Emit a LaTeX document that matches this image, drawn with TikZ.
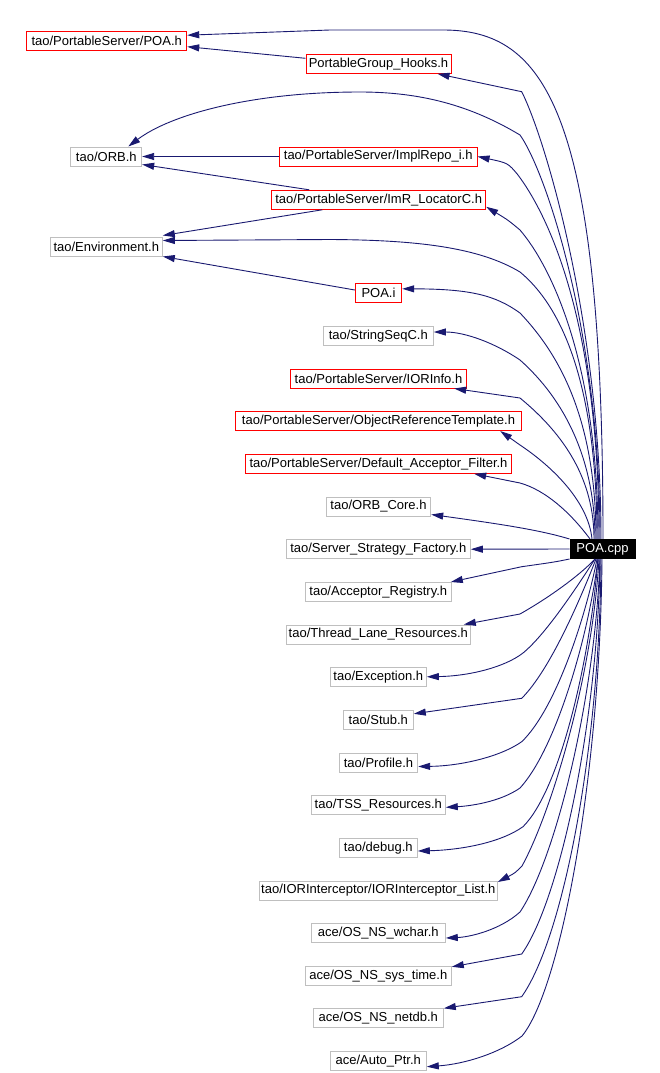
\documentclass[tikz,border=0pt]{standalone}
\usepackage{fontspec}
\setmainfont{Liberation Sans}
\usetikzlibrary{arrows.meta}
\definecolor{edgecol}{RGB}{25,25,112}
\definecolor{graybox}{RGB}{191,191,191}
\begin{document}
\begin{tikzpicture}[x=1pt,y=-1pt,
  box/.style={draw=graybox, line width=1pt, inner sep=0pt, minimum height=19pt, font=\fontsize{13}{15}\selectfont, anchor=center},
  redbox/.style={box, draw=red},
  cppbox/.style={box, draw=black, fill=black, text=white},
  edge/.style={draw=edgecol, line width=0.9pt, -{Triangle[length=12pt,width=7pt]}}]
\useasboundingbox (0,0) rectangle (660,1073);
% nodes
\node[redbox, minimum width=160pt] (poah) at (106.7,41.2) {tao/PortableServer/POA.h};
\node[redbox, minimum width=145pt] (pgh) at (378.5,63.8) {PortableGroup\_Hooks.h};
\node[box, minimum width=70.7pt] (orbh) at (106.3,156.5) {tao/ORB.h};
\node[redbox, minimum width=197.7pt] (implrepo) at (378.2,156.5) {tao/PortableServer/ImplRepo\_i.h};
\node[redbox, minimum width=214pt] (imr) at (378.7,199.8) {tao/PortableServer/ImR\_LocatorC.h};
\node[box, minimum width=112pt] (env) at (106.3,246.5) {tao/Environment.h};
\node[redbox, minimum width=46.4pt] (poai) at (378.5,292.8) {POA.i};
\node[box, minimum width=110pt] (strseq) at (378.3,336) {tao/StringSeqC.h};
\node[redbox, minimum width=176.4pt] (iorinfo) at (378.5,378.5) {tao/PortableServer/IORInfo.h};
\node[redbox, minimum width=286.4pt] (ort) at (378.5,421) {tao/PortableServer/ObjectReferenceTemplate.h};
\node[redbox, minimum width=266.4pt] (daf) at (378.5,463.8) {tao/PortableServer/Default\_Acceptor\_Filter.h};
\node[box, minimum width=104.4pt] (orbcore) at (378.5,506.5) {tao/ORB\_Core.h};
\node[box, minimum width=184pt] (ssf) at (378.3,549.2) {tao/Server\_Strategy\_Factory.h};
\node[cppbox, minimum width=65pt] (cpp) at (602.5,549) {POA.cpp};
\node[box, minimum width=146pt] (accreg) at (378.3,592) {tao/Acceptor\_Registry.h};
\node[box, minimum width=184pt] (tlr) at (378.3,634.5) {tao/Thread\_Lane\_Resources.h};
\node[box, minimum width=96pt] (exc) at (378.3,676.8) {tao/Exception.h};
\node[box, minimum width=70pt] (stub) at (378.3,719.8) {tao/Stub.h};
\node[box, minimum width=78.4pt] (profile) at (378.5,762.5) {tao/Profile.h};
\node[box, minimum width=134pt] (tss) at (378.3,804.8) {tao/TSS\_Resources.h};
\node[box, minimum width=78pt] (debug) at (378.3,848) {tao/debug.h};
\node[box, minimum width=238pt] (iorint) at (378.3,890.5) {tao/IORInterceptor/IORInterceptor\_List.h};
\node[box, minimum width=134pt] (wchar) at (378.3,933) {ace/OS\_NS\_wchar.h};
\node[box, minimum width=146pt] (systime) at (378.3,975.8) {ace/OS\_NS\_sys\_time.h};
\node[box, minimum width=130pt] (netdb) at (378.3,1018.3) {ace/OS\_NS\_netdb.h};
\node[box, minimum width=96pt] (autoptr) at (378.3,1061.2) {ace/Auto\_Ptr.h};
% node-to-node edges
\draw[edge] ([yshift=5.5pt]pgh.west) -- ([yshift=-5.5pt]poah.east);
\draw[edge] (implrepo.west) -- (orbh.east);
\draw[edge] ([xshift=38pt]imr.north west) -- ([yshift=-8pt]orbh.east);
\draw[edge] ([xshift=51pt]imr.south west) -- ([yshift=1pt]env.north east);
\draw[edge] ([yshift=2.8pt]poai.west) -- (env.south east);
% edges from POA.cpp (upper)
\draw[edge] ([xshift=0.5pt]cpp.north) .. controls (603,110) and (545,30) .. (443,30) -- (330,30) -- ([yshift=6pt]poah.east);
\draw[edge] ([xshift=-1.5pt]cpp.north) .. controls (601,330) and (547,142) .. (521.7,91.7) -- ([xshift=-14pt]pgh.south east);
\draw[edge] ([xshift=-2.5pt]cpp.north) .. controls (600,330) and (545,170) .. (520,135) .. controls (470,105) and (420,92) .. (360,92) .. controls (250,92) and (170,115) .. ([xshift=22pt]orbh.north);
\draw[edge] ([xshift=-3.5pt]cpp.north) .. controls (599,320) and (548,215) .. (518,175) .. controls (508,163) .. (implrepo.east);
\draw[edge] ([xshift=-4.5pt]cpp.north) .. controls (598,360) and (550,265) .. (520,230) .. controls (508,220) .. ([yshift=-7pt]imr.east);
\draw[edge] ([xshift=-5.5pt]cpp.north) .. controls (597,380) and (560,305) .. (520,272) .. controls (480,248) and (420,240) .. (330,239.5) -- ([yshift=6pt]env.east);
\draw[edge] ([xshift=-6.5pt]cpp.north) .. controls (596,420) and (560,355) .. (520,313) .. controls (495,295) and (470,289) .. ([yshift=4pt]poai.east);
\draw[edge] ([xshift=-7.5pt]cpp.north) .. controls (595,460) and (565,400) .. (520,360) .. controls (495,343) and (465,332) .. ([yshift=4pt]strseq.east);
\draw[edge] ([xshift=-8.5pt]cpp.north) .. controls (594,480) and (565,435) .. (520,398) -- ([xshift=-13pt]iorinfo.south east);
\draw[edge] ([xshift=-10.5pt]cpp.north) .. controls (588,500) and (550,465) .. (520,445) -- ([xshift=-22pt]ort.south east);
\draw[edge] ([xshift=-12.5pt]cpp.north) .. controls (570,512) and (545,490) .. (520,483) -- ([xshift=-38pt]daf.south east);
\draw[edge] (cpp.north west) .. controls (540,530) and (500,524) .. ([yshift=-8pt]orbcore.east);
\draw[edge] (cpp.west) -- (ssf.east);
% edges from POA.cpp (lower)
\draw[edge] (cpp.south west) .. controls (555,562) .. (521.7,566.7) -- ([xshift=-1pt]accreg.north east);
\draw[edge] ([xshift=-7.5pt]cpp.south) .. controls (580,575) and (550,597) .. (520,614) -- ([xshift=-7pt]tlr.north east);
\draw[edge] ([xshift=-7.5pt]cpp.south) .. controls (575,590) and (545,635) .. (523,653) .. controls (505,667) and (470,676) .. (exc.east);
\draw[edge] ([xshift=-6.5pt]cpp.south) .. controls (580,600) and (550,670) .. (521.7,698.3) -- ([yshift=6pt]stub.east);
\draw[edge] ([xshift=-5.5pt]cpp.south) .. controls (585,620) and (555,710) .. (521.7,741.7) .. controls (500,757) and (460,766) .. ([yshift=-4pt]profile.east);
\draw[edge] ([xshift=-4.5pt]cpp.south) .. controls (588,640) and (555,750) .. (520,788) .. controls (500,802) and (470,806) .. ([yshift=-2.5pt]tss.east);
\draw[edge] ([xshift=-4.5pt]cpp.south) .. controls (590,660) and (560,790) .. (523,826.7) .. controls (500,843) and (460,850) .. ([yshift=-3pt]debug.east);
\draw[edge] ([xshift=-3.5pt]cpp.south) .. controls (592,680) and (550,815) .. (522,866) .. controls (515,873) .. ([yshift=-1.5pt]iorint.north east);
\draw[edge] ([xshift=-2.5pt]cpp.south) .. controls (595,700) and (555,860) .. (520,912) .. controls (500,930) and (470,937) .. ([yshift=-5pt]wchar.east);
\draw[edge] ([xshift=-2.5pt]cpp.south) .. controls (598,720) and (560,900) .. (521.7,954) -- ([yshift=-1pt]systime.north east);
\draw[edge] ([xshift=-1.5pt]cpp.south) .. controls (600,740) and (565,935) .. (521.7,996.7) -- (netdb.north east);
\draw[edge] ([xshift=-0.5pt]cpp.south) .. controls (600,780) and (560,990) .. (522,1036) .. controls (500,1053) and (465,1064) .. ([yshift=-5.5pt]autoptr.east);
\end{tikzpicture}
\end{document}
